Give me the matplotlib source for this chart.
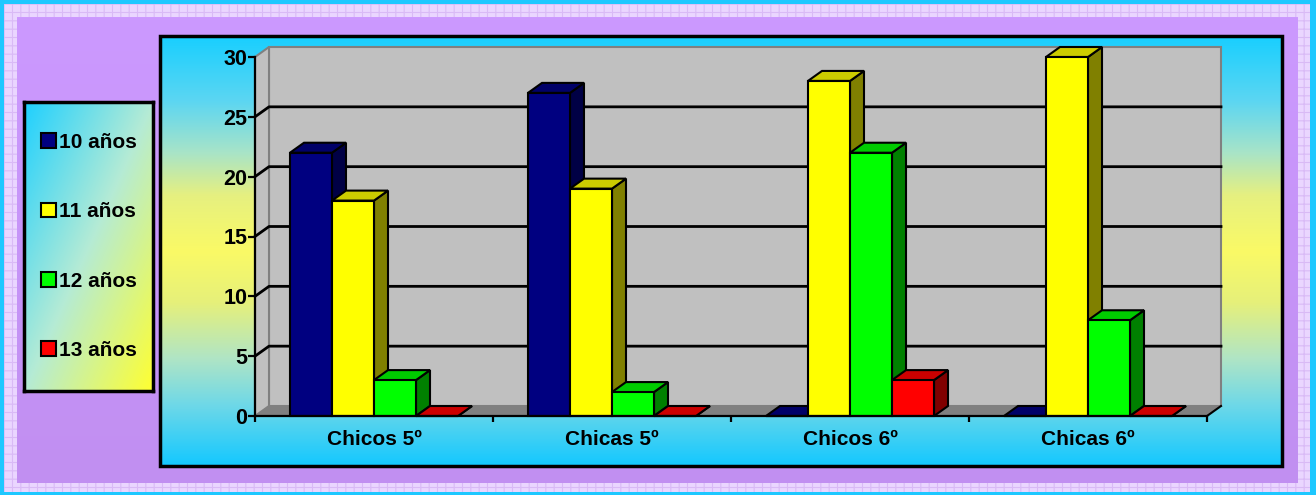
import matplotlib
matplotlib.use("Agg")
import matplotlib.pyplot as plt
import numpy as np
from matplotlib.patches import Polygon, Rectangle
from matplotlib.colors import to_rgb

plt.rcParams['font.family'] = ['Liberation Sans', 'DejaVu Sans']
plt.rcParams['font.weight'] = 'bold'
plt.rcParams['hatch.linewidth'] = 0.8

# data
categories = ["Chicos 5º", "Chicas 5º", "Chicos 6º", "Chicas 6º"]
series = ["10 años", "11 años", "12 años", "13 años"]
edad_10 = [22, 27, 0, 0]
edad_11 = [18, 19, 28, 30]
edad_12 = [3, 2, 22, 8]
edad_13 = [0, 0, 3, 0]
values = [edad_10, edad_11, edad_12, edad_13]
yticks = [0, 5, 10, 15, 20, 25, 30]

# front / top / side colours of each series
front_c = ['#000080', '#FFFF00', '#00FF00', '#FF0000']
top_c = ['#000068', '#CCCC00', '#00CC00', '#CC0000']
side_c = ['#000045', '#808000', '#008000', '#800000']

W, H = 1316, 495
fig = plt.figure(figsize=(W / 100, H / 100), dpi=100, facecolor='#1EC8FF')


def grad(stops, n=256):
    pos = [s[0] for s in stops]
    cols = np.array([to_rgb(s[1]) for s in stops])
    t = np.linspace(0, 1, n)
    return np.stack([np.interp(t, pos, cols[:, k]) for k in range(3)], axis=-1)


# background: pattern band, purple fill, gradient panel
bg = fig.add_axes([0, 0, 1, 1])
bg.axis('off')
bg.add_patch(Rectangle((4, 4), 1306, 488, facecolor='#EAD6FF', edgecolor='#D9BAF6',
                       hatch='++', lw=0))
purple = grad([(0, '#CC99FF'), (1, '#C18FF1')])[:, None, :]
bg.imshow(purple, extent=(17, 1298, 483, 17), aspect='auto', zorder=2)
panel = grad([(0, '#19CFFF'), (0.15, '#5CD6F2'), (0.27, '#A8E4C8'), (0.37, '#E6F080'),
              (0.5, '#FAFA66'), (0.62, '#E6F07A'), (0.75, '#B0E5C5'), (0.86, '#6ED8E8'),
              (1, '#14C8FF')])[:, None, :]
bg.imshow(panel, extent=(160, 1282, 466, 36), aspect='auto', zorder=3)
bg.add_patch(Rectangle((160, 36), 1122, 430, fill=False, ec='black', lw=2.5, zorder=4))
bg.set_xlim(0, W)
bg.set_ylim(H, 0)

# plot area with oblique depth
cat_px = 238.0
ppu = 359.0 / 30
dx = 14 / cat_px
dy = 10 / ppu
ncat = len(categories)
ymax = yticks[-1]

ax = fig.add_axes([255 / W, (H - 416) / H, (ncat + dx) * cat_px / W, (ymax + dy) * ppu / H])
ax.set_facecolor('none')
ax.set_xlim(0, ncat + dx)
ax.set_ylim(0, ymax + dy)

# walls and floor
ax.add_patch(Rectangle((dx, dy), ncat, ymax, facecolor='#C0C0C0', ec='#808080', lw=1.5,
                       zorder=0.5, clip_on=False))
ax.add_patch(Polygon([(0, 0), (dx, dy), (dx, ymax + dy), (0, ymax)], closed=True,
                     facecolor='#C0C0C0', ec='#808080', lw=1.5, zorder=0.5, clip_on=False))
ax.add_patch(Polygon([(0, 0), (dx, dy), (ncat + dx, dy), (ncat, 0)], closed=True,
                     facecolor='#808080', ec='none', zorder=0.6, clip_on=False))
ax.plot([ncat, ncat + dx], [0, dy], color='black', lw=1.5, zorder=0.7, clip_on=False)
for t in yticks[1:-1]:
    ax.plot([0, dx, ncat + dx], [t, t + dy, t + dy], color='black', lw=2, zorder=1,
            clip_on=False)

# bars
nser = len(series)
bar_w = 0.1765
start = (1 - nser * bar_w) / 2
idx = np.arange(ncat)
for i, (name, vals) in enumerate(zip(series, values)):
    xs = idx + start + i * bar_w
    bars = ax.bar(xs, vals, width=bar_w, align='edge', color=front_c[i], edgecolor='black',
                  linewidth=1.5, label=name, zorder=3 + i + 0.5, clip_on=False)
    for x, v in zip(xs, vals):
        ax.add_patch(Polygon([(x + bar_w, 0), (x + bar_w, v), (x + bar_w + dx, v + dy),
                              (x + bar_w + dx, dy)], closed=True, facecolor=side_c[i],
                             ec='black', lw=1.5, zorder=3 + i, clip_on=False))
        ax.add_patch(Polygon([(x, v), (x + dx, v + dy), (x + bar_w + dx, v + dy),
                              (x + bar_w, v)], closed=True, facecolor=top_c[i],
                             ec='black', lw=1.5, zorder=3 + i, clip_on=False))

# axes lines, ticks and labels
for s in ['top', 'right']:
    ax.spines[s].set_visible(False)
ax.spines['left'].set_bounds(0, ymax)
ax.spines['bottom'].set_bounds(0, ncat)
ax.spines['left'].set_linewidth(1.6)
ax.spines['bottom'].set_linewidth(1.6)
ax.spines['left'].set_zorder(10)
ax.spines['bottom'].set_zorder(10)
ax.set_yticks(yticks)
ax.set_yticklabels([str(t) for t in yticks], fontsize=15.5, fontweight='bold')
ax.tick_params(axis='y', direction='out', length=5, width=1.6, pad=0.5)
ax.set_xticks(np.arange(ncat + 1))
ax.set_xticklabels([])
ax.tick_params(axis='x', which='major', direction='out', length=4.5, width=1.6)
ax.set_xticks(idx + 0.5, minor=True)
ax.set_xticklabels(categories, minor=True, fontsize=15, fontweight='bold')
ax.tick_params(axis='x', which='minor', length=0, pad=10)

# legend box with diagonal gradient
lax = fig.add_axes([24 / W, (H - 391) / H, 129 / W, 289 / H])
gx, gy = np.meshgrid(np.linspace(0, 1, 200), np.linspace(0, 1, 400))
tt = (gx + gy) / 2
stops = grad([(0, '#1ED0FF'), (0.5, '#B5EBD5'), (1, '#FFFF30')], n=512)
lax.imshow(stops[(tt * 511).astype(int)], extent=(0, 1, 0, 1), aspect='auto')
lax.set_xticks([])
lax.set_yticks([])
for s in lax.spines.values():
    s.set_linewidth(2.5)
handles, labels = ax.get_legend_handles_labels()
lax.legend(handles, labels, loc='center', frameon=False,
           prop={'weight': 'bold', 'size': 15}, handlelength=0.72, handleheight=0.72,
           labelspacing=2.42, handletextpad=0.15, borderpad=0)

fig.savefig("out.png", dpi=100, facecolor=fig.get_facecolor())
